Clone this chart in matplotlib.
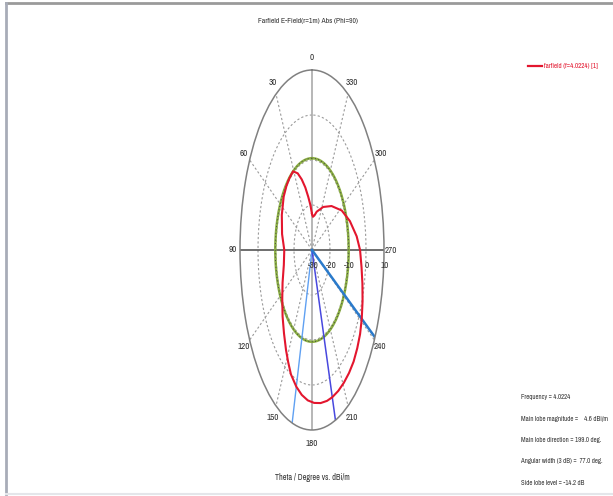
import numpy as np
import matplotlib.pyplot as plt
from matplotlib import font_manager
from matplotlib.lines import Line2D

# the original uses a narrow UI font; take a condensed face if one is installed
narrow = sorted({f.name for f in font_manager.fontManager.ttflist
                 if 'Narrow' in f.name or 'Condensed' in f.name})
plt.rcParams['font.family'] = narrow[:1] + ['Liberation Sans', 'DejaVu Sans']

title = 'Farfield E-Field(r=1m) Abs (Phi=90)'
xlabel = 'Theta / Degree vs. dBi/m'
legend_label = 'farfield (f=4.0224) [1]'

theta_ticks = [0, 30, 60, 90, 120, 150, 180, 210, 240, 270, 300, 330]
r_ticks = [-30, -20, -10, 0, 10]

# farfield cut (theta in deg, level in dBi/m)
red_theta = [0, 5, 10, 15, 20, 25, 31, 38, 45, 53, 65, 78, 90, 102, 114, 123,
             132, 140, 147, 152, 157, 164, 170, 176, 182, 188, 194, 199, 205,
             211, 217, 223, 229, 235, 241, 248, 255, 262, 270, 277, 287, 298,
             312, 327, 343, 350, 356, 360]
red_db = [-22.0, -20.0, -18.0, -15.6, -13.3, -11.2, -9.6, -9.7, -9.9, -10.3,
          -11.5, -13.0, -14.6, -14.0, -12.1, -10.3, -8.0, -5.8, -3.5, -1.8,
          0.0, 1.6, 2.7, 3.5, 4.0, 4.35, 4.55, 4.6, 4.55, 4.4, 4.2, 3.9, 3.3,
          2.6, 1.6, 0.3, -1.0, -2.2, -3.3, -5.0, -8.0, -11.3, -15.4, -18.6,
          -21.1, -22.2, -22.6, -22.0]

side_lobe_db = -9.6
main_dir = 199.0
beam_edges = [164.0, 241.0]

info_lines = ['Frequency = 4.0224',
              'Main lobe magnitude =    4.6 dBi/m',
              'Main lobe direction = 199.0 deg.',
              'Angular width (3 dB) =  77.0 deg.',
              'Side lobe level = -14.2 dB']

W, H = 613, 496
k = 1.0 if narrow else 0.8  # shrink if only a wide face is available
fig = plt.figure(figsize=(W / 100, H / 100), dpi=100)
ax = fig.add_axes([240 / W, 66 / H, 144 / W, 360 / H], projection='polar')
ax.set_aspect('auto')
ax.set_theta_zero_location('N')
ax.set_theta_direction(1)
ax.set_ylim(r_ticks[0], r_ticks[-1])
ax.set_xticks([])
ax.set_yticks([])
ax.grid(False)
ax.spines['polar'].set_color('#808080')
ax.spines['polar'].set_linewidth(1.1)

t = np.linspace(0, 2 * np.pi, 721)
rmin, rmax = r_ticks[0], r_ticks[-1]

# rings
for r in r_ticks[1:-1]:
    ax.plot(t, np.full_like(t, r), color='#9a9a9a', lw=0.8, ls=(0, (2, 2)))

# spokes
for a in theta_ticks:
    th = np.deg2rad(a)
    if a % 180 == 0:
        ax.plot([th, th], [rmin, rmax], color='#aaaaaa', lw=1.2)
    elif a % 90 == 0:
        ax.plot([th, th], [rmin, rmax], color='#555555', lw=1.2)
    else:
        ax.plot([th, th], [rmin, rmax], color='#9a9a9a', lw=0.8, ls=(0, (2, 2)))

# side lobe level circle
ax.plot(t, np.full_like(t, side_lobe_db), color='#8cb043', lw=1.8)
ax.plot(t, np.full_like(t, side_lobe_db), color='#444444', lw=0.7, ls=(0, (1, 2.5)))

# main lobe / 3 dB lines
ax.plot([np.deg2rad(beam_edges[0])] * 2, [rmin, rmax], color='#5fa0f2', lw=1.0)
ax.plot([np.deg2rad(main_dir)] * 2, [rmin, rmax], color='#4848de', lw=1.1)
ax.plot([np.deg2rad(beam_edges[1])] * 2, [rmin, rmax], color='#2a7acb', lw=1.8)

ax.plot(np.deg2rad(red_theta), red_db, color='#e3162e', lw=1.5)

for a in theta_ticks:
    th = np.deg2rad(a)
    ax.annotate(str(a), xy=(th, rmax), xytext=(-np.sin(th) * 7, np.cos(th) * 13),
                textcoords='offset pixels', ha='center', va='center',
                fontsize=6.5 * k, color='#333333', annotation_clip=False)

for r in r_ticks:
    ax.annotate(str(r), xy=(1.5 * np.pi, r), xytext=(1, -15),
                textcoords='offset pixels', ha='center', va='center',
                fontsize=6.5 * k, color='#333333', annotation_clip=False)

fig.text(308 / W, 1 - 21 / H, title, ha='center', va='center',
         fontsize=5.5 * k, color='#333333')
fig.text(312 / W, 1 - 478 / H, xlabel, ha='center', va='center',
         fontsize=5.9 * k, color='#333333')

fig.add_artist(Line2D([528 / W, 542 / W], [1 - 66 / H] * 2, color='#e3162e', lw=1.6))
fig.text(544 / W, 1 - 66 / H, legend_label, ha='left', va='center',
         fontsize=5.0 * k, color='#e3162e')

for i, line in enumerate(info_lines):
    fig.text(521 / W, 1 - (397 + 21.5 * i) / H, line, ha='left', va='center',
             fontsize=4.9 * k, color='#333333')

# window frame
fig.add_artist(Line2D([6 / W, 1], [1 - 3 / H] * 2, color='#9a9a9a', lw=2))
fig.add_artist(Line2D([6 / W] * 2, [2 / H, 1 - 3 / H], color='#a8acb8', lw=2))
fig.add_artist(Line2D([6 / W, 1], [2 / H] * 2, color='#e4e6ea', lw=1.5))

fig.savefig('out.png', dpi=100)
